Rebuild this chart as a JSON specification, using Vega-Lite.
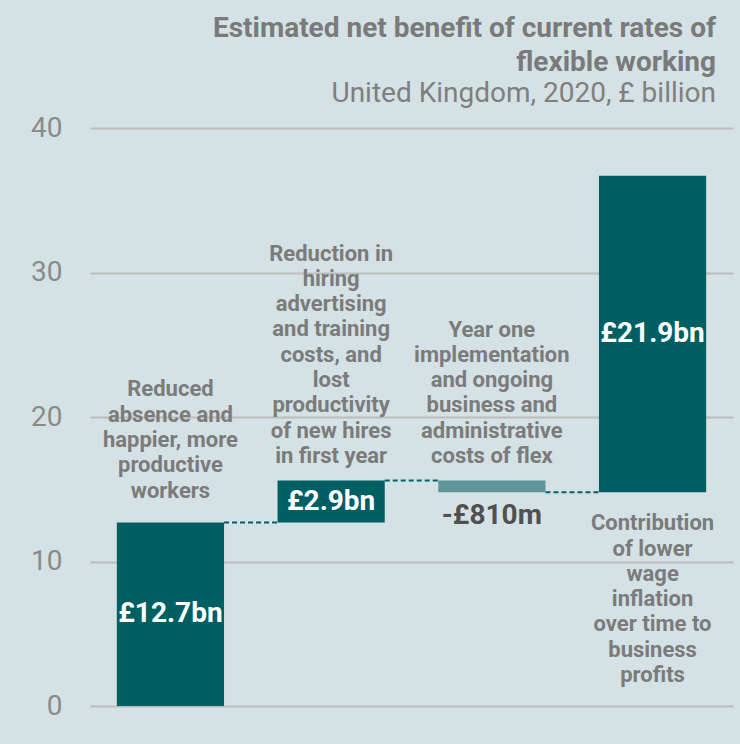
{
  "$schema": "https://vega.github.io/schema/vega-lite/v6.json",
  "autosize": "none",
  "width": 643,
  "height": 578,
  "padding": {"left": 90, "top": 128, "right": 7, "bottom": 38},
  "background": "#d4e2e5",
  "config": {
    "view": {"stroke": null},
    "font": "Roboto"
  },
  "title": {
    "text": ["Estimated net benefit of current rates of", "flexible working"],
    "subtitle": "United Kingdom, 2020, £ billion",
    "anchor": "end",
    "frame": "group",
    "dx": -17,
    "offset": 6,
    "font": "Roboto",
    "fontSize": 28,
    "fontWeight": "bold",
    "color": "#7a7a7a",
    "lineHeight": 34,
    "subtitleFont": "Roboto",
    "subtitleFontSize": 28,
    "subtitleFontWeight": "normal",
    "subtitleColor": "#7f7f7f",
    "subtitleLineHeight": 34,
    "subtitlePadding": 3
  },
  "data": {
    "values": [
      {"cat": "A", "start": 0, "end": 12.7, "type": "positive", "label": "£12.7bn", "next": "B", "desc": ["Reduced", "absence and", "happier, more", "productive", "workers"]},
      {"cat": "B", "start": 12.7, "end": 15.6, "type": "positive", "label": "£2.9bn", "next": "C", "desc": ["Reduction in", "hiring", "advertising", "and training", "costs, and", "lost", "productivity", "of new hires", "in first year"]},
      {"cat": "C", "start": 15.6, "end": 14.79, "type": "negative", "label": "-£810m", "next": "D", "desc": ["Year one", "implementation", "and ongoing", "business and", "administrative", "costs of flex"]},
      {"cat": "D", "start": 14.79, "end": 36.69, "type": "positive", "label": "£21.9bn", "next": null, "desc": ["Contribution", "of lower", "wage", "inflation", "over time to", "business", "profits"]}
    ]
  },
  "transform": [
    {"calculate": "(datum.start + datum.end) / 2", "as": "mid"},
    {"calculate": "max(datum.start, datum.end)", "as": "top"},
    {"calculate": "min(datum.start, datum.end)", "as": "bottom"}
  ],
  "encoding": {
    "x": {
      "field": "cat",
      "type": "nominal",
      "axis": null,
      "scale": {"paddingInner": 0.333, "paddingOuter": 0.167}
    }
  },
  "layer": [
    {
      "mark": {"type": "bar"},
      "encoding": {
        "y": {
          "field": "start",
          "type": "quantitative",
          "scale": {"domain": [0, 40], "nice": false},
          "axis": {
            "values": [0, 10, 20, 30, 40],
            "title": null,
            "domain": false,
            "ticks": false,
            "labelPadding": 28,
            "labelFont": "Roboto",
            "labelFontSize": 28,
            "labelColor": "#8a8a8a",
            "gridColor": "#bcbcbc",
            "gridWidth": 2
          }
        },
        "y2": {"field": "end"},
        "color": {
          "field": "type",
          "type": "nominal",
          "scale": {"domain": ["positive", "negative"], "range": ["#005f63", "#5e9598"]},
          "legend": null
        }
      }
    },
    {
      "transform": [{"filter": "datum.next != null"}],
      "mark": {"type": "rule", "color": "#006064", "strokeWidth": 2, "strokeDash": [5, 3]},
      "encoding": {
        "x": {"field": "cat", "type": "nominal", "bandPosition": 1},
        "x2": {"field": "next", "bandPosition": 0},
        "y": {"field": "end", "type": "quantitative"}
      }
    },
    {
      "transform": [{"filter": "datum.type == 'positive'"}],
      "mark": {"type": "text", "color": "white", "fontWeight": "bold", "fontSize": 28, "font": "Roboto", "baseline": "middle"},
      "encoding": {
        "y": {"field": "mid", "type": "quantitative"},
        "text": {"field": "label"}
      }
    },
    {
      "transform": [{"filter": "datum.type == 'negative'"}],
      "mark": {"type": "text", "color": "#505050", "fontWeight": "bold", "fontSize": 28, "font": "Roboto", "baseline": "top", "dy": 10},
      "encoding": {
        "y": {"field": "bottom", "type": "quantitative"},
        "text": {"field": "label"}
      }
    },
    {
      "transform": [{"filter": "datum.cat == 'A'"}],
      "mark": {"type": "text", "color": "#7b7b7b", "fontWeight": "bold", "fontSize": 22, "font": "Roboto", "baseline": "alphabetic", "lineHeight": 25.3, "dy": -126},
      "encoding": {
        "y": {"field": "top", "type": "quantitative"},
        "text": {"field": "desc"}
      }
    },
    {
      "transform": [{"filter": "datum.cat == 'B'"}],
      "mark": {"type": "text", "color": "#7b7b7b", "fontWeight": "bold", "fontSize": 22, "font": "Roboto", "baseline": "alphabetic", "lineHeight": 25.3, "dy": -220},
      "encoding": {
        "y": {"field": "top", "type": "quantitative"},
        "text": {"field": "desc"}
      }
    },
    {
      "transform": [{"filter": "datum.cat == 'C'"}],
      "mark": {"type": "text", "color": "#7b7b7b", "fontWeight": "bold", "fontSize": 22, "font": "Roboto", "baseline": "alphabetic", "lineHeight": 25.3, "dy": -144},
      "encoding": {
        "y": {"field": "top", "type": "quantitative"},
        "text": {"field": "desc"}
      }
    },
    {
      "transform": [{"filter": "datum.cat == 'D'"}],
      "mark": {"type": "text", "color": "#7b7b7b", "fontWeight": "bold", "fontSize": 22, "font": "Roboto", "baseline": "alphabetic", "lineHeight": 25.3, "dy": 38},
      "encoding": {
        "y": {"field": "bottom", "type": "quantitative"},
        "text": {"field": "desc"}
      }
    }
  ]
}
